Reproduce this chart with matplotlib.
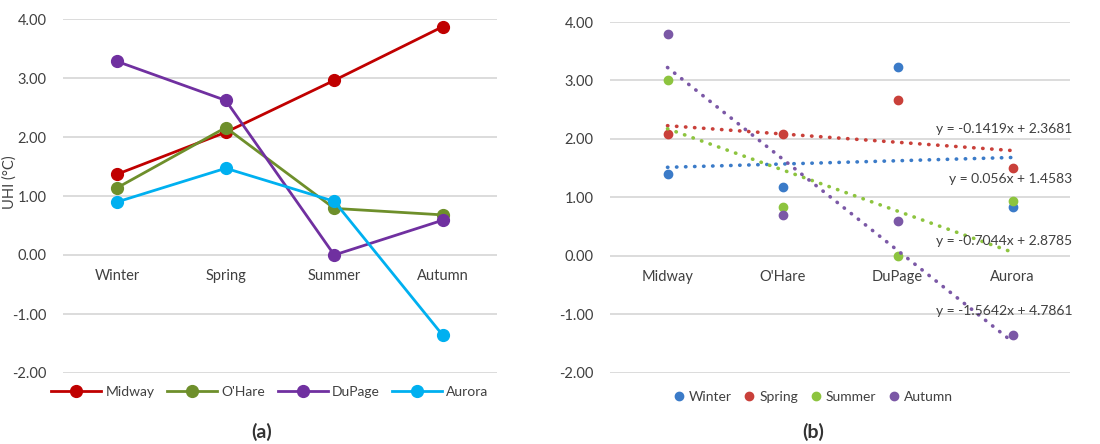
import matplotlib
matplotlib.use("Agg")
import matplotlib.pyplot as plt
import numpy as np

plt.rcParams['font.family'] = ['Lato', 'DejaVu Sans']

seasons = ['Winter', 'Spring', 'Summer', 'Autumn']
stations = ['Midway', "O'Hare", 'DuPage', 'Aurora']

# (a) UHI per station, one value per season
uhi_midway = [1.37, 2.08, 2.96, 3.87]
uhi_ohare = [1.14, 2.16, 0.79, 0.68]
uhi_dupage = [3.28, 2.62, 0.00, 0.59]
uhi_aurora = [0.90, 1.47, 0.91, -1.36]

# (b) UHI per season, one value per station
uhi_winter = [1.40, 1.17, 3.23, 0.83]
uhi_spring = [2.08, 2.08, 2.66, 1.50]
uhi_summer = [3.01, 0.83, 0.00, 0.93]
uhi_autumn = [3.80, 0.70, 0.60, -1.35]

# linear trendlines (slope, intercept) for (b)
trend_slope = [0.056, -0.1419, -0.7044, -1.5642]
trend_icept = [1.4583, 2.3681, 2.8785, 4.7861]

colors_a = ['#C00000', '#6E8F2B', '#7030A0', '#00B0F0']
colors_b = ['#3B7BC8', '#C9403A', '#8DC43F', '#7B58A6']

W, H = 1100, 444
fig = plt.figure(figsize=(W / 100, H / 100), dpi=100)

grid_c = '#D9D9D9'
text_c = '#404040'
fs = 10.5


def style_axes(ax, cats, xs):
    ax.set_ylim(-2, 4)
    ax.set_yticks(np.arange(-2, 4.01, 1))
    ax.set_yticklabels([f'{v:.2f}' for v in np.arange(-2, 4.01, 1)])
    ax.yaxis.grid(True, color=grid_c, lw=1.3)
    ax.set_axisbelow(True)
    for s in ax.spines.values():
        s.set_visible(False)
    ax.tick_params(length=0, labelsize=fs, labelcolor=text_c, pad=12)
    ax.set_xticks([])
    # category labels sit just under the zero line
    for x, c in zip(xs, cats):
        ax.annotate(c, (x, 0), xytext=(0, -15), textcoords='offset points',
                    ha='center', va='center', fontsize=fs, color=text_c)


# ---- (a) ----
ax1 = fig.add_axes([63 / W, 1 - 373 / H, 434 / W, 354 / H])
xa = np.arange(len(seasons))
series_a = [uhi_midway, uhi_ohare, uhi_dupage, uhi_aurora]
for name, vals, c in zip(stations, series_a, colors_a):
    ax1.plot(xa, vals, color=c, lw=2, marker='o', ms=8.5, label=name)
ax1.set_xlim(-0.5, 3.5)
style_axes(ax1, seasons, xa)
ax1.set_ylabel('UHI (°C)', fontsize=fs, color=text_c)
ax1.yaxis.set_label_coords(-0.107, 0.54)
fig.legend(*ax1.get_legend_handles_labels(), loc='center',
           bbox_to_anchor=(270 / W, 1 - 392 / H), ncol=4, frameon=False,
           fontsize=10, handlelength=3.6, columnspacing=0.9, handletextpad=0.3,
           labelcolor=text_c)

# ---- (b) ----
ax2 = fig.add_axes([610 / W, 1 - 372.7 / H, 460 / W, 350.7 / H])
xb = np.arange(1, len(stations) + 1)
series_b = [uhi_winter, uhi_spring, uhi_summer, uhi_autumn]
for name, vals, c in zip(seasons, series_b, colors_b):
    ax2.plot(xb, vals, ls='none', marker='o', ms=6, color=c, label=name)
for m, b, c in zip(trend_slope, trend_icept, colors_b):
    xt = np.array([xb[0], xb[-1]])
    ax2.plot(xt, m * xt + b, color=c, lw=2.6, ls=(0, (0.1, 2.4)),
             dash_capstyle='round')
ax2.set_xlim(0.5, 4.5)
style_axes(ax2, stations, xb)

eq_y = [1.31, 2.17, 0.26, -0.95]
for m, b, y in zip(trend_slope, trend_icept, eq_y):
    sign = '+' if b >= 0 else '-'
    ax2.text(4.52, y, f'y = {m:g}x {sign} {abs(b):g}', ha='right', va='center',
             fontsize=10, color=text_c)

fig.legend(*ax2.get_legend_handles_labels(), loc='center',
           bbox_to_anchor=(813 / W, 1 - 397 / H), ncol=4, frameon=False,
           fontsize=10, handlelength=0.8, columnspacing=0.9, handletextpad=0.3,
           labelcolor=text_c)

fig.text(262 / W, 1 - 432 / H, '(a)', ha='center', va='center',
         fontsize=14, fontweight='bold', color='#333333')
fig.text(813 / W, 1 - 432 / H, '(b)', ha='center', va='center',
         fontsize=14, fontweight='bold', color='#333333')

fig.savefig('out.png', dpi=100)
